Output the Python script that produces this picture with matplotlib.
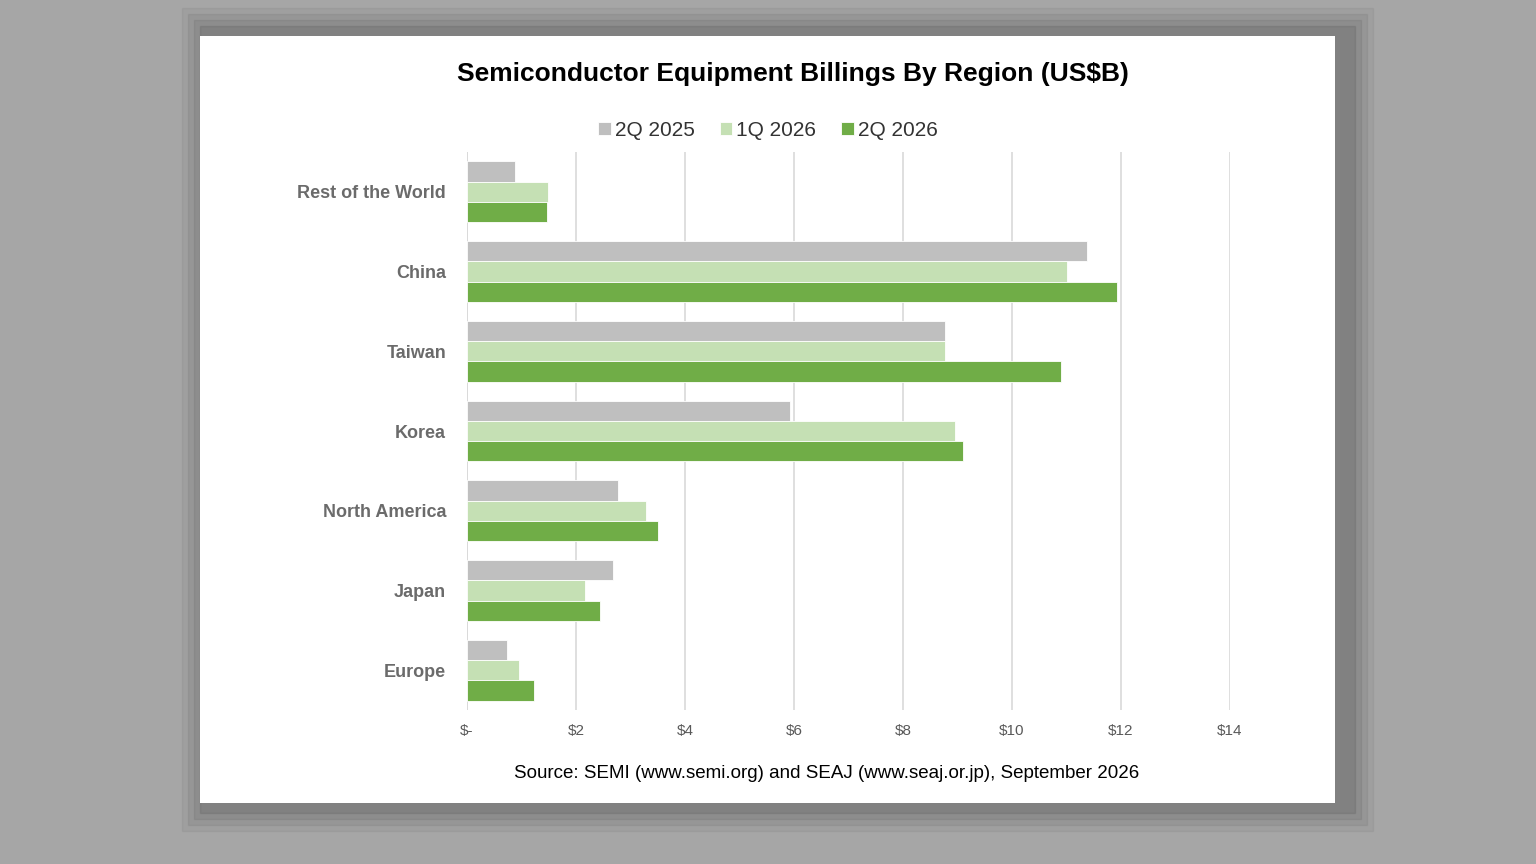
import matplotlib
matplotlib.use("Agg")
import matplotlib.pyplot as plt
from matplotlib.patches import Rectangle
import numpy as np

regions = ["Rest of the World", "China", "Taiwan", "Korea", "North America", "Japan", "Europe"]
q2_2025 = [0.88, 11.38, 8.77, 5.93, 2.77, 2.68, 0.73]
q1_2026 = [1.49, 11.01, 8.77, 8.95, 3.28, 2.17, 0.95]
q2_2026 = [1.47, 11.93, 10.90, 9.10, 3.50, 2.44, 1.23]
series_names = ["2Q 2025", "1Q 2026", "2Q 2026"]
colors = ["#bfbfbf", "#c5e0b4", "#70ad47"]
xticks = [0, 2, 4, 6, 8, 10, 12, 14]
xticklabels = ["$-", "$2", "$4", "$6", "$8", "$10", "$12", "$14"]

plt.rcParams['font.family'] = ['Arial', 'Liberation Sans', 'DejaVu Sans']
W, H = 1536, 864
fig = plt.figure(figsize=(W/100, H/100), dpi=100)
fig.patch.set_facecolor("#a6a6a6")

# shadow + card
for i, a in enumerate([0.04, 0.05, 0.06, 0.08]):
    off = 28 - i*6
    fig.patches.append(Rectangle(((200-off+10)/W, 1-(803+off)/H), (1135+2*off)/W, (767+2*off)/H,
                                 transform=fig.transFigure, color="black", alpha=a, zorder=0))
fig.patches.append(Rectangle((200/W, 1-803/H), 1135/W, 767/H, transform=fig.transFigure,
                             facecolor="white", edgecolor="none", zorder=1))

ax = fig.add_axes([467/W, 1-710/H, 763/W, 558/H])
ax.set_zorder(2)
ax.patch.set_alpha(0)
n = len(regions)
y = np.arange(n)[::-1].astype(float)
h = 0.255
for k, (vals, c, nm) in enumerate(zip([q2_2025, q1_2026, q2_2026], colors, series_names)):
    ax.barh(y + (1 - k)*h, vals, height=h, color=c, edgecolor="white", linewidth=0.6, label=nm, zorder=3)
ax.set_xlim(0, 14)
ax.set_ylim(-0.5, n - 0.5)
ax.set_xticks(xticks)
ax.set_xticklabels(xticklabels, fontsize=11, color="#595959")
ax.set_yticks(y)
ax.set_yticklabels(regions, fontsize=13, color="#6b6b6b", fontweight="bold")
ax.tick_params(length=0, pad=10)
ax.tick_params(axis='y', pad=15)
ax.grid(axis='x', color="#d9d9d9", linewidth=1.2, zorder=0)
for s in ax.spines.values():
    s.set_visible(False)
ax.axvline(0, color="#d9d9d9", linewidth=1.2, zorder=1)

fig.text(793/W, 1-74/H, "Semiconductor Equipment Billings By Region (US$B)", ha="center", va="center",
         fontsize=19, fontweight="bold", zorder=5)
leg = ax.legend(loc="center", bbox_to_anchor=(768/W, 1-130/H), bbox_transform=fig.transFigure, ncol=3,
                frameon=False, fontsize=15, handlelength=0.6, handleheight=0.6, handletextpad=0.2,
                columnspacing=1.2)
for t in leg.get_texts():
    t.set_color("#333333")
fig.text(827/W, 1-773/H, "Source: SEMI (www.semi.org) and SEAJ (www.seaj.or.jp), September 2026",
         ha="center", va="center", fontsize=13.5, zorder=5)
fig.savefig("out.png", dpi=100, facecolor=fig.get_facecolor())
